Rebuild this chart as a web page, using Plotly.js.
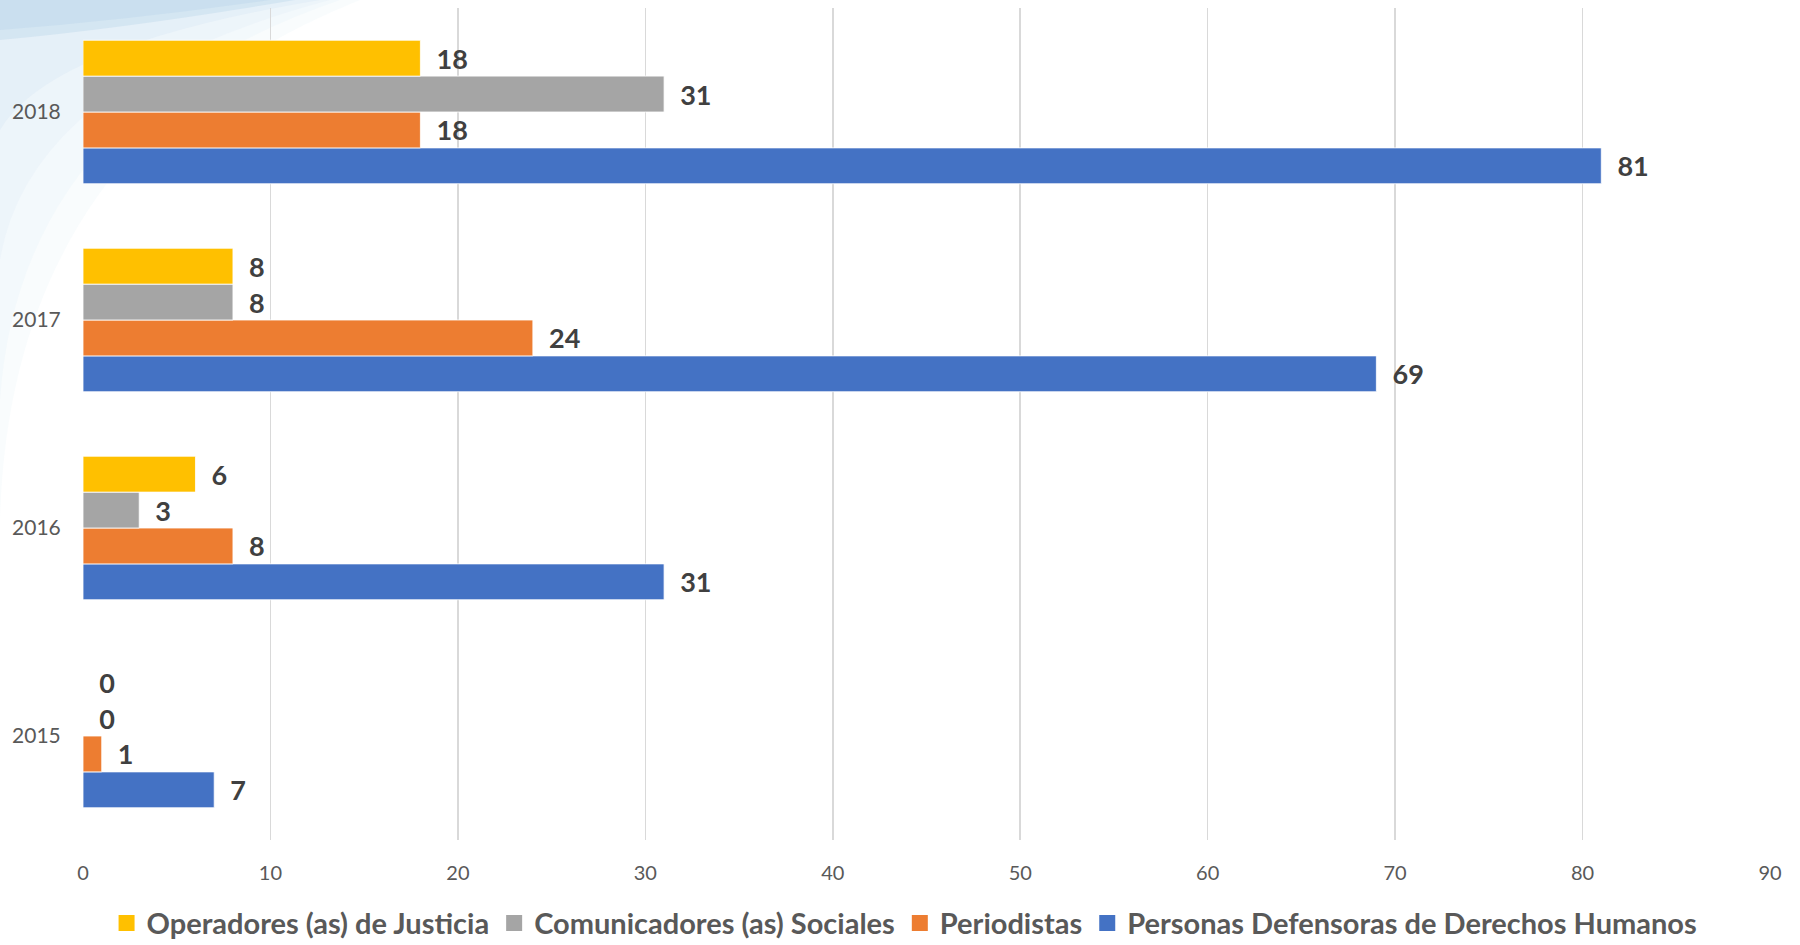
<!DOCTYPE html>
<html>
<head>
<meta charset="utf-8">
<script src="https://cdn.plot.ly/plotly-3.0.1.min.js"></script>
<style>html,body{margin:0;padding:0;background:#fff;}#chart{width:1800px;height:945px;}</style>
</head>
<body>
<div id="chart"></div>
<script>
const years = ['2015', '2016', '2017', '2018'];
const operadores = [0, 6, 8, 18];
const comunicadores = [0, 3, 8, 31];
const periodistas = [1, 8, 24, 18];
const personas = [7, 31, 69, 81];

const seriesNames = ['Personas Defensoras de Derechos Humanos', 'Periodistas', 'Comunicadores (as) Sociales', 'Operadores (as) de Justicia'];
const seriesValues = [personas, periodistas, comunicadores, operadores];
const seriesColors = ['#4472C4', '#ED7D31', '#A5A5A5', '#FFC000'];

const FONT = 'Lato, "Open Sans", sans-serif';

const barTraces = seriesNames.map((n, i) => ({
  type: 'bar',
  orientation: 'h',
  name: n,
  y: years,
  x: seriesValues[i],
  showlegend: false,
  marker: {color: seriesColors[i], line: {color: 'rgba(255,255,255,0.8)', width: 1}},
  texttemplate: '\u00a0\u00a0%{x}',
  textposition: 'outside',
  constraintext: 'none',
  cliponaxis: false,
  textfont: {family: FONT, size: 27, color: '#404040', weight: 'bold'},
  hoverinfo: 'x+name'
}));

// legend entries (larger square keys), in the reference's left-to-right order
const legendTraces = [3, 2, 1, 0].map(i => ({
  type: 'scatter',
  mode: 'markers',
  name: seriesNames[i],
  x: [null], y: [null],
  marker: {symbol: 'square', size: 17, color: seriesColors[i]},
  showlegend: true,
  hoverinfo: 'skip'
}));

// decorative background swoosh (pixel positions converted to paper coords)
const L = 83, R = 30, T = 8, B = 105, W = 1800, H = 945;
const pw = W - L - R, ph = H - T - B;
const px = x => (x - L) / pw;
const py = y => 1 - (y - T) / ph;
function path(pts) {
  return pts.map((p, i) => (i === 0 ? 'M' : (p.length === 4 ? 'Q' : 'L')) +
    (p.length === 4 ? px(p[0]) + ',' + py(p[1]) + ' ' + px(p[2]) + ',' + py(p[3]) : px(p[0]) + ',' + py(p[1]))).join(' ') + ' Z';
}
function tint(h, w, qx, qy, color) {
  return {type: 'path', xref: 'paper', yref: 'paper', layer: 'below', line: {width: 0},
          fillcolor: color, path: path([[0, 0], [0, h], [qx, qy, w, 0]])};
}

const shapes = [
  tint(520, 360, 10, 140, 'rgba(238,245,250,0.35)'),
  tint(400, 340, 20, 110, 'rgba(236,244,250,0.4)'),
  tint(260, 330, 30, 80, 'rgba(230,240,248,0.45)'),
  tint(130, 320, 50, 45, 'rgba(222,235,245,0.55)'),
  tint(40, 295, 130, 28, 'rgba(205,225,239,0.7)'),
  tint(30, 270, 130, 20, 'rgba(195,219,236,0.6)')
];

const layout = {
  width: W, height: H,
  margin: {l: L, r: R, t: T, b: B, pad: 0, autoexpand: false},
  paper_bgcolor: '#ffffff',
  plot_bgcolor: 'rgba(0,0,0,0)',
  barmode: 'group',
  bargap: 0.31,
  bargroupgap: 0,
  font: {family: FONT, color: '#595959'},
  xaxis: {
    range: [0, 90], dtick: 10, tick0: 0,
    showgrid: true, gridcolor: '#d9d9d9', gridwidth: 1.5,
    zeroline: false, showline: false,
    ticks: 'outside', ticklen: 15, tickcolor: 'rgba(0,0,0,0)',
    tickfont: {family: FONT, size: 20, color: '#595959'},
    fixedrange: true
  },
  yaxis: {
    type: 'category',
    categoryorder: 'array', categoryarray: years,
    showgrid: false, zeroline: false, showline: false,
    ticks: 'outside', ticklen: 17, tickcolor: 'rgba(0,0,0,0)',
    tickfont: {family: FONT, size: 21, color: '#595959'},
    fixedrange: true
  },
  legend: {
    orientation: 'h', x: 0.487, xanchor: 'center', y: -0.1, yanchor: 'middle',
    traceorder: 'normal',
    font: {family: FONT, size: 29, color: '#595959', weight: 'bold'},
    itemwidth: 30,
    bgcolor: 'rgba(0,0,0,0)'
  },
  shapes: shapes,
  showlegend: true
};

Plotly.newPlot('chart', barTraces.concat(legendTraces), layout, {displayModeBar: false, staticPlot: true});
</script>
</body>
</html>
